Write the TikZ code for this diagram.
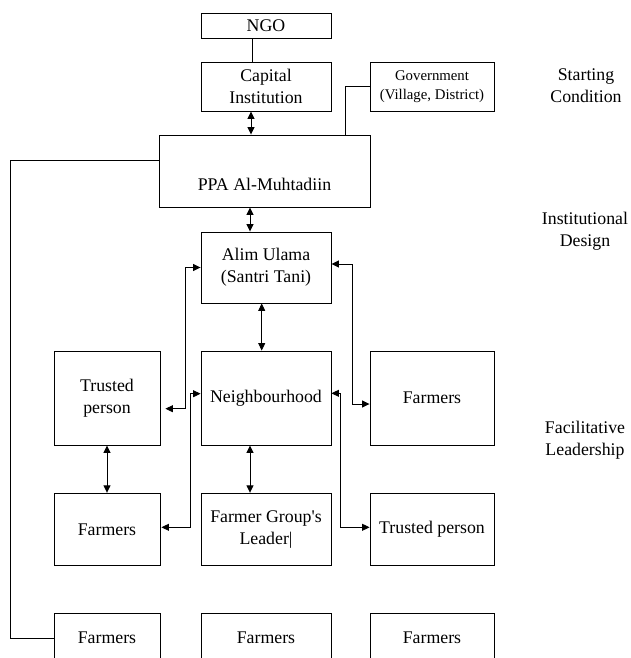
\documentclass[tikz,border=0pt]{standalone}
\usepackage{fontspec}
\setmainfont{Liberation Serif}
\usetikzlibrary{arrows.meta}
\begin{document}
\begin{tikzpicture}[x=1pt,y=-1pt,
  box/.style={draw,line width=0.9pt,inner sep=0pt,align=center,font=\fontsize{17.8}{22}\selectfont},
  lab/.style={inner sep=0pt,align=center,font=\fontsize{17.8}{22}\selectfont},
  conn/.style={line width=0.9pt},
  biarr/.style={line width=0.9pt,{Triangle[length=7.5pt,width=7pt]}-{Triangle[length=7.5pt,width=7pt]}}]
\clip (0,0) rectangle (630,658);
\fill[white] (0,0) rectangle (630,658);
% top
\node[box,minimum width=130pt,minimum height=25pt] (ngo) at (266,25.5) {NGO};
\node[box,minimum width=130pt,minimum height=49pt] (cap) at (266,86.5) {Capital\\Institution};
\node[box,minimum width=124pt,minimum height=49pt,font=\fontsize{14.8}{19}\selectfont] (gov) at (432,86.5) {Government\\(Village, District)};
\node[box,minimum width=211pt,minimum height=72pt] (ppa) at (264.5,171) {};
\node[lab] (ppat) at (264.5,184) {PPA Al-Muhtadiin};
\node[box,minimum width=130pt,minimum height=71pt] (alim) at (266,267.5) {Alim Ulama\\(Santri Tani)};
% middle row
\node[box,minimum width=106pt,minimum height=94pt] (tl) at (107,398) {Trusted\\person};
\node[box,minimum width=130pt,minimum height=94pt] (nb) at (266,398) {Neighbourhood};
\node[box,minimum width=124pt,minimum height=94pt] (fr) at (432,398) {Farmers};
% row 2
\node[box,minimum width=106pt,minimum height=72.5pt] (fa2) at (107,529.5) {Farmers};
\node[box,minimum width=130pt,minimum height=72.5pt] (fgl) at (266,529.5) {Farmer Group\textquotesingle s\\Leader|};
\node[box,minimum width=124pt,minimum height=72.5pt] (tp2) at (432,529.5) {Trusted person};
% row 3
\node[box,minimum width=106pt,minimum height=50pt] (f3a) at (107,638) {Farmers};
\node[box,minimum width=130pt,minimum height=50pt] (f3b) at (266,638) {Farmers};
\node[box,minimum width=124pt,minimum height=50pt] (f3c) at (432,638) {Farmers};
% side labels
\node[lab] (sc) at (586,86) {Starting\\Condition};
\node[lab] (idl) at (585,231) {Institutional\\Design};
\node[lab] (fl) at (585,440) {Facilitative\\Leadership};
% connectors
\draw[conn] ([xshift=-14pt]ngo.south) -- ([xshift=-14pt]cap.north);
\draw[biarr] ([xshift=-15pt]cap.south) -- ([xshift=-15pt]cap.south |- ppa.north);
\draw[conn] (gov.west) -| ([xshift=80.5pt]ppa.north);
\draw[biarr] ([xshift=-16pt]alim.north |- ppa.south) -- ([xshift=-16pt]alim.north);
\draw[conn] ([yshift=11pt]ppa.west) -- ++(-148,0) |- (f3a.west);
\draw[biarr] ([xshift=-4.3pt]alim.south) -- ([xshift=-4.3pt]alim.south |- nb.north);
\draw[biarr] (alim.west) -- ++(-15.3,0) |- ([xshift=5pt,yshift=-10.7pt]tl.east);
\draw[biarr] ([yshift=3.5pt]alim.east) -- ++(20.7,0) |- ([yshift=-6pt]fr.west);
\draw[biarr] ([yshift=4.3pt]nb.west) -- ++(-10.3,0) |- ([xshift=1pt,yshift=2.2pt]fa2.east);
\draw[biarr] ([yshift=4.7pt]nb.east) -- ++(9,0) |- ([yshift=2.2pt]tp2.west);
\draw[biarr] (tl.south) -- (fa2.north);
\draw[biarr] ([xshift=-16pt]nb.south) -- ([xshift=-16pt]fgl.north);
\end{tikzpicture}
\end{document}
